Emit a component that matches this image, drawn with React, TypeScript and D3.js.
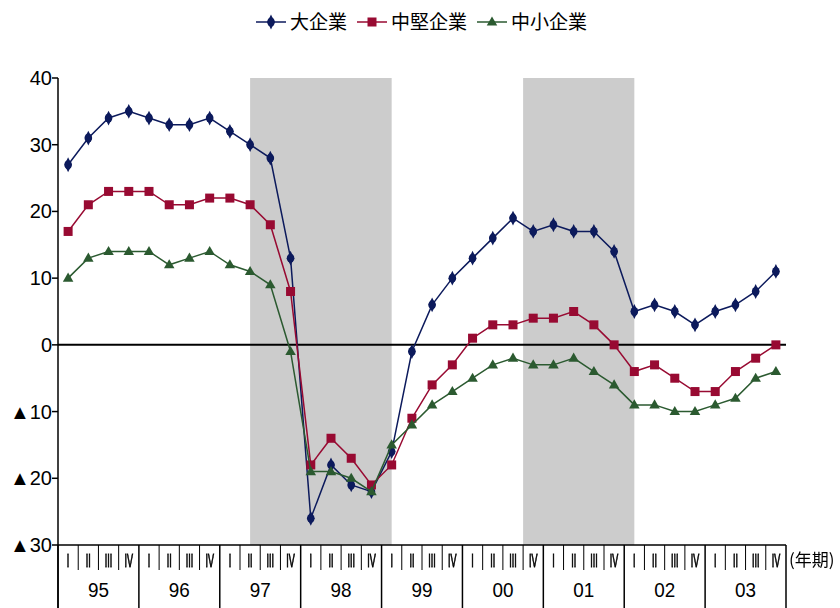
import React from "react";
import * as d3 from "d3";

// Business conditions DI by firm size, quarterly 1995 I – 2003 IV
const years = ["95", "96", "97", "98", "99", "00", "01", "02", "03"];
const quarterLabels = ["I", "II", "III", "IV"];
const yTicks = [40, 30, 20, 10, 0, -10, -20, -30];

const large = [27, 31, 34, 35, 34, 33, 33, 34, 32, 30, 28, 13, -26, -18, -21, -22, -16, -1, 6, 10, 13, 16, 19, 17, 18, 17, 17, 14, 5, 6, 5, 3, 5, 6, 8, 11];
const medium = [17, 21, 23, 23, 23, 21, 21, 22, 22, 21, 18, 8, -18, -14, -17, -21, -18, -11, -6, -3, 1, 3, 3, 4, 4, 5, 3, 0, -4, -3, -5, -7, -7, -4, -2, 0];
const small = [10, 13, 14, 14, 14, 12, 13, 14, 12, 11, 9, -1, -19, -19, -20, -22, -15, -12, -9, -7, -5, -3, -2, -3, -3, -2, -4, -6, -9, -9, -10, -10, -9, -8, -5, -4];

// Recession shading, in quarter-index units (quarter i spans [i, i+1])
const recessions: [number, number][] = [
  [9.5, 16.5],
  [23, 28.5],
];

const seriesNames = ["大企業", "中堅企業", "中小企業"];
const seriesColors = ["#0c1a5c", "#980a32", "#2b5a30"];
const seriesShapes = ["dot", "square", "triangle"];
const seriesData = [large, medium, small];

const W = 840;
const H = 608;
const left = 58;
const right = 786;
const top = 78;
const bottom = 545;

const nQ = years.length * 4;
const x = d3.scaleLinear().domain([0, nQ]).range([left, right]);
const y = d3.scaleLinear().domain([-30, 40]).range([bottom, top]);

const FONT = "'Liberation Sans', Arial, sans-serif";
const CJK = "'Noto Sans CJK JP', sans-serif";

function Marker({ shape, cx, cy, color }: { shape: string; cx: number; cy: number; color: string }) {
  if (shape === "square") {
    return <rect x={cx - 4.5} y={cy - 4.5} width={9} height={9} fill={color} />;
  }
  if (shape === "triangle") {
    const sym = d3.symbol().type(d3.symbolTriangle).size(48)();
    return <path d={sym || ""} transform={`translate(${cx},${cy + 0.5})`} fill={color} />;
  }
  const sym = d3.symbol().type(d3.symbolDiamond).size(70)();
  return (
    <g>
      <ellipse cx={cx} cy={cy} rx={3.8} ry={4.5} fill={color} />
      <path d={sym || ""} transform={`translate(${cx},${cy}) scale(0.8,0.95)`} fill={color} />
    </g>
  );
}

function fmtTick(v: number) {
  return v < 0 ? `▲${Math.abs(v)}` : `${v}`;
}

export default function App() {
  const line = d3
    .line<number>()
    .x((_, i) => x(i + 0.5))
    .y((d) => y(d));

  const legendItems = [
    { x0: 256, tx: 290 },
    { x0: 357, tx: 391 },
    { x0: 477, tx: 511 },
  ];

  return (
    <svg
      width={W}
      height={H}
      style={{ position: "absolute", left: 0, top: 0, background: "#fff" }}
    >
      {/* recession bands */}
      {recessions.map(([a, b], i) => (
        <rect key={i} x={x(a)} y={top} width={x(b) - x(a)} height={bottom - top} fill="#cccccc" />
      ))}

      {/* y axis */}
      <line x1={left} x2={left} y1={top} y2={H} stroke="#000" strokeWidth={1.5} />
      {yTicks.map((t) => (
        <g key={t}>
          <line x1={left - 6} x2={left} y1={y(t)} y2={y(t)} stroke="#000" strokeWidth={1.5} />
          <text
            x={left - 6}
            y={y(t) + 7}
            textAnchor="end"
            fontFamily={FONT}
            fontSize={20}
            fill="#000"
          >
            {fmtTick(t)}
          </text>
        </g>
      ))}

      {/* zero line */}
      <line x1={left} x2={right} y1={y(0)} y2={y(0)} stroke="#000" strokeWidth={2} />

      {/* category axis box */}
      <line x1={left} x2={right} y1={bottom} y2={bottom} stroke="#000" strokeWidth={1.5} />
      {d3.range(nQ + 1).map((i) => {
        const isYear = i % 4 === 0;
        return (
          <line
            key={i}
            x1={x(i)}
            x2={x(i)}
            y1={bottom}
            y2={isYear ? H : bottom + 25}
            stroke="#000"
            strokeWidth={isYear ? 1.5 : 1}
          />
        );
      })}
      <g opacity={0.999} style={{ willChange: "transform" }}>
        {d3.range(nQ).map((i) => (
          <text
            key={i}
            transform={`translate(${x(i + 0.5)},${bottom + 22}) scale(0.5,1)`}
            textAnchor="middle"
            fontFamily={FONT}
            fontSize={18}
            fill="#000"
            stroke="#000"
            strokeWidth={0.9}
          >
            {quarterLabels[i % 4]}
          </text>
        ))}
      </g>
      {years.map((yr, i) => (
        <text
          key={yr}
          transform={`translate(${x(i * 4 + 2)},${bottom + 52}) scale(0.9,1)`}
          textAnchor="middle"
          fontFamily={FONT}
          fontSize={21}
          fill="#000"
        >
          {yr}
        </text>
      ))}
      <text x={789} y={bottom + 21} fontFamily={CJK} fontSize={17} fill="#000">
        (年期)
      </text>

      {/* series */}
      {seriesData.map((data, s) => (
        <g key={s}>
          <path d={line(data) || ""} fill="none" stroke={seriesColors[s]} strokeWidth={1.5} />
          {data.map((v, i) => (
            <Marker key={i} shape={seriesShapes[s]} cx={x(i + 0.5)} cy={y(v)} color={seriesColors[s]} />
          ))}
        </g>
      ))}

      {/* legend */}
      {legendItems.map((it, s) => (
        <g key={s}>
          <line x1={it.x0} x2={it.x0 + 30} y1={22} y2={22} stroke={seriesColors[s]} strokeWidth={1.5} />
          <Marker shape={seriesShapes[s]} cx={it.x0 + 15} cy={22} color={seriesColors[s]} />
          <text x={it.tx} y={29} fontFamily={CJK} fontSize={19} fill="#000">
            {seriesNames[s]}
          </text>
        </g>
      ))}
    </svg>
  );
}
